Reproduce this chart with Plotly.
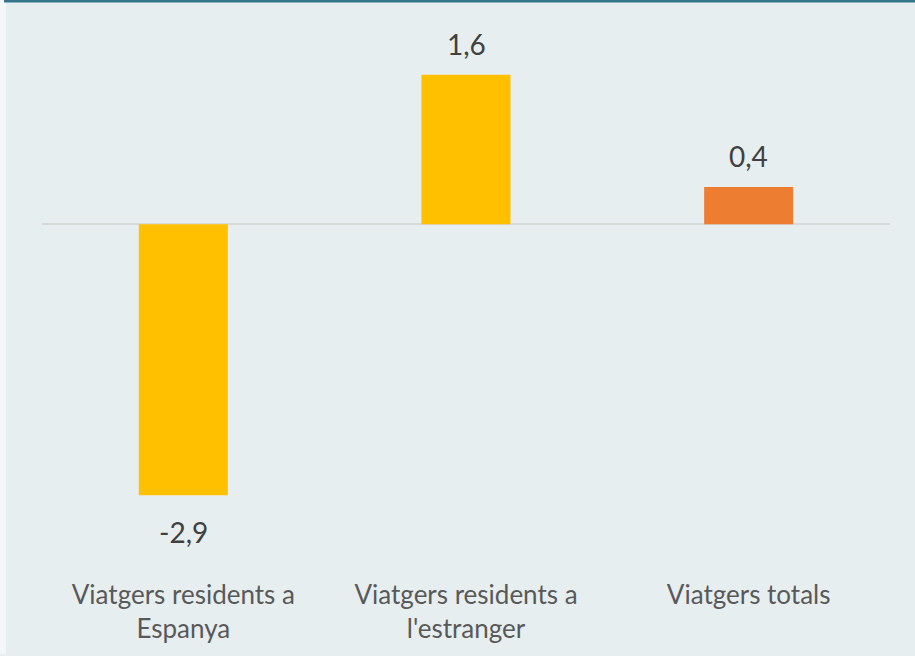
import plotly.graph_objects as go

categories = ["Viatgers residents a<br>Espanya", "Viatgers residents a<br>l'estranger", "Viatgers totals"]
values = [-2.9, 1.6, 0.4]
bar_colors = ["#FFC000", "#FFC000", "#ED7D31"]

W, H = 915, 656
ml, mr, mt, mb = 42, 25, 30, 77
plot_w = W - ml - mr
plot_h = H - mt - mb
y_range = [-3.776, 2.08]

fig = go.Figure()
fig.add_trace(go.Bar(x=categories, y=values, marker=dict(color=bar_colors, line=dict(width=0)),
                     hoverinfo="skip"))

for c, v in zip(categories, values):
    fig.add_annotation(x=c, y=v, text=f"{v:.1f}".replace(".", ","), showarrow=False,
                       yanchor="middle", yshift=31 if v >= 0 else -37,
                       font=dict(family="Lato", size=28, color="#404040"))

def px_to_paper_x(p):
    return (p - ml) / plot_w

def px_to_paper_y(p):
    return (H - mb - p) / plot_h

# top teal border and left light strip
fig.add_shape(type="rect", xref="paper", yref="paper",
              x0=px_to_paper_x(0), x1=px_to_paper_x(6), y0=px_to_paper_y(H), y1=px_to_paper_y(0),
              fillcolor="#F4F7F8", line=dict(width=0), layer="below")
fig.add_shape(type="rect", xref="paper", yref="paper",
              x0=px_to_paper_x(4), x1=px_to_paper_x(W), y0=px_to_paper_y(2.5), y1=px_to_paper_y(0),
              fillcolor="#33768A", line=dict(width=0))

fig.update_layout(
    width=W, height=H,
    margin=dict(l=ml, r=mr, t=mt, b=mb),
    paper_bgcolor="#E7EEF0",
    plot_bgcolor="#E7EEF0",
    bargap=0.685,
    showlegend=False,
    xaxis=dict(showgrid=False, showline=False, ticks="", zeroline=False,
               tickfont=dict(family="Lato", size=26, color="#595959")),
    yaxis=dict(range=y_range, showgrid=False, showticklabels=False, ticks="",
               zeroline=True, zerolinecolor="#D9D9D9", zerolinewidth=2, showline=False),
)

fig.write_html("out.html", config={"displayModeBar": False},
               post_script="document.body.style.margin='0';document.body.style.overflow='hidden';")
